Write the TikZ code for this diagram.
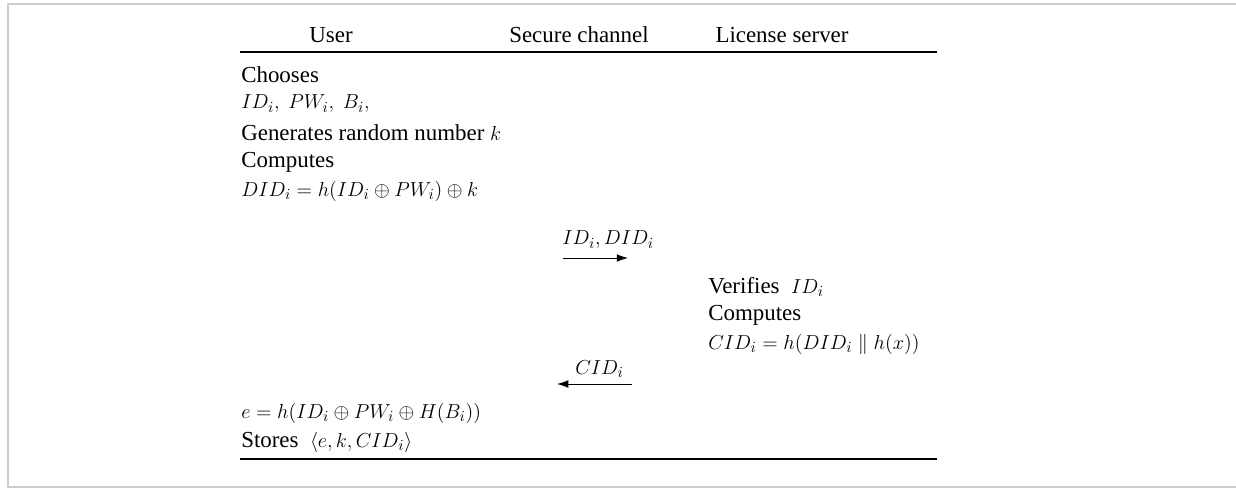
\documentclass[tikz,border=0pt]{standalone}
\usepackage{amsmath}
\usepackage{amssymb}
\usepackage{fontspec}
\setmainfont{Liberation Serif}
\usepackage{tikz}
\usetikzlibrary{arrows.meta}

\newcommand{\eqsize}{\fontsize{15.5}{17}\selectfont}

\begin{document}
\begin{tikzpicture}[x=0.025cm, y=-0.025cm,
			line join=round,
			every node/.style = {inner sep=0pt, font=\fontsize{16.3}{18}\selectfont},
			row/.style = {anchor=west},
			eqn/.style = {anchor=west, font=\eqsize},
			rule/.style = {line width=1.6pt},
			msg/.style = {line width=0.6pt, -{Latex[length=8pt,width=5.5pt]}}
			]
			\useasboundingbox (0,0) rectangle (1236,489);
			\draw[gray!40, line width=1.2pt] (1236,4) -- (8,4) -- (8,487) -- (1236,487);
			% header
			\node (user) at (331,35) {User};
			\node (chan) at (579,35) {Secure channel};
			\node (serv) at (782,35) {License server};
			\draw[rule] (240,52) -- (937,52);
			% user side
			\node[row] (u1) at (241,75) {Chooses};
			\node[eqn] (u2) at (241,104) {$ID_i,\ PW_i,\ B_i,$};
			\node[row] (u3) at (241,133) {Generates random number {\eqsize$k$}};
			\node[row] (u4) at (241,162) {Computes};
			\node[eqn] (u5) at (241,191) {$DID_i = h(ID_i \oplus PW_i) \oplus k$};
			% first message
			\node[eqn] (m1) at (562,240) {$ID_i, DID_i$};
			\coordinate (m1a) at (563,258);
			\coordinate (m1b) at (628,258);
			\draw[msg] (m1a) -- (m1b);
			% server side
			\node[row] (s1) at (708,287) {Verifies \ {\eqsize$ID_i$}};
			\node[row] (s2) at (708,315) {Computes};
			\node[eqn] (s3) at (708,344) {$CID_i = h(DID_i \parallel h(x))$};
			% second message
			\node[eqn] (m2) at (575,369) {$CID_i$};
			\coordinate (m2a) at (632,384);
			\coordinate (m2b) at (557,384);
			\draw[msg] (m2a) -- (m2b);
			% user stores
			\node[eqn] (u6) at (241,413) {$e = h(ID_i \oplus PW_i \oplus H(B_i))$};
			\node[row] (u7) at (241,442) {Stores \ {\eqsize$\langle e, k, CID_i\rangle$}};
			\draw[rule] (240,459) -- (937,459);
			\end{tikzpicture}
\end{document}
